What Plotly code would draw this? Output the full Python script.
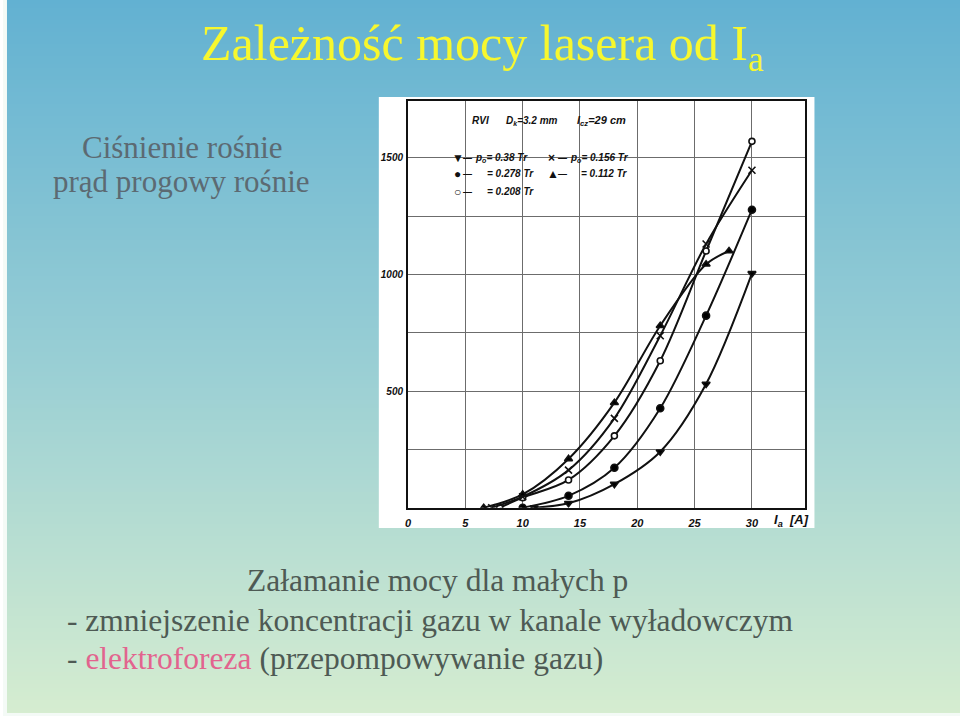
import plotly.graph_objects as go

# ---------------- data ----------------
# anode current Ia [A] and laser power for each pressure p0
x_038 = [11, 14, 18, 22, 26, 30]
y_038 = [0, 19, 101, 240, 530, 1004]

x_0278 = [10, 14, 18, 22, 26, 30]
y_0278 = [0, 51, 171, 426, 823, 1277]

x_0208 = [8, 10, 14, 18, 22, 26, 30]
y_0208 = [0, 43, 119, 308, 630, 1100, 1570]

x_0156 = [7.3, 10, 14, 18, 22, 26, 30]
y_0156 = [0, 47, 161, 383, 737, 1130, 1446]

x_0112 = [6.6, 10, 14, 18, 22, 26, 28]
y_0112 = [0, 57, 209, 450, 780, 1043, 1100]

x_ticks = [0, 5, 10, 15, 20, 25, 30]
x_ticklabels = ["0", "5", "10", "15", "20", "25", "30"]
y_ticks = [250, 500, 750, 1000, 1250, 1500]
y_ticklabels = ["", "500", "", "1000", "", "1500"]

W, H = 960, 716


def px(x):
    return x / W


def py(y):
    return 1 - y / H


fig = go.Figure()

series = [
    (x_038, y_038, "triangle-down", "black", "p0 = 0.38 Tr"),
    (x_0278, y_0278, "circle", "black", "p0 = 0.278 Tr"),
    (x_0208, y_0208, "circle", "white", "p0 = 0.208 Tr"),
    (x_0156, y_0156, "x-thin", "black", "p0 = 0.156 Tr"),
    (x_0112, y_0112, "triangle-up", "black", "p0 = 0.112 Tr"),
]
for xs, ys, sym, fill, name in series:
    fig.add_trace(go.Scatter(
        x=xs, y=ys, mode="lines+markers", name=name,
        line=dict(color="#111111", width=2, shape="spline", smoothing=0.9),
        marker=dict(symbol=sym, size=7 if sym != "circle" or fill == "black" else 6,
                    color=fill, line=dict(color="#111111", width=1.6)),
        showlegend=False,
    ))

# ---------------- slide background (vertical gradient) ----------------
shapes = []
stops = [(0.0, (98, 177, 210)), (0.5, (152, 206, 212)), (1.0, (214, 237, 208))]


def grad(t):
    for (t0, c0), (t1, c1) in zip(stops[:-1], stops[1:]):
        if t <= t1:
            f = (t - t0) / (t1 - t0)
            return tuple(round(a + (b - a) * f) for a, b in zip(c0, c1))
    return stops[-1][1]


step = 4
for y0 in range(0, H, step):
    c = grad((y0 + step / 2) / H)
    shapes.append(dict(type="rect", xref="paper", yref="paper", layer="below",
                       x0=0, x1=1, y0=py(y0 + step), y1=py(y0),
                       fillcolor="rgb(%d,%d,%d)" % c, line=dict(width=0)))
# thin light slide border
shapes.append(dict(type="rect", xref="paper", yref="paper", layer="below",
                   x0=0, x1=px(4), y0=0, y1=1, fillcolor="#f4faf6", line=dict(width=0)))
shapes.append(dict(type="rect", xref="paper", yref="paper", layer="below",
                   x0=0, x1=1, y0=0, y1=py(713), fillcolor="#f4faf6", line=dict(width=0)))
# white scanned-figure background
shapes.append(dict(type="rect", xref="paper", yref="paper", layer="below",
                   x0=px(377), x1=px(814), y0=py(528), y1=py(97),
                   fillcolor="white", line=dict(width=0)))
# white legend box covering the grid
shapes.append(dict(type="rect", xref="paper", yref="paper", layer="between",
                   x0=px(449), x1=px(633), y0=py(200), y1=py(112),
                   fillcolor="white", line=dict(width=0)))

ann = []
serif = "'Times New Roman', 'Liberation Serif', 'DejaVu Serif', serif"
ann.append(dict(text="Zależność mocy lasera od I<sub>a</sub>", x=px(481), y=py(47),
                xref="paper", yref="paper", showarrow=False, xanchor="center", yanchor="middle",
                font=dict(family=serif, size=50, color="#f7f72e")))
ann.append(dict(text="Ciśnienie rośnie", x=px(180), y=py(147), xref="paper", yref="paper",
                showarrow=False, xanchor="center", yanchor="middle",
                font=dict(family=serif, size=31, color="#5c6a72")))
ann.append(dict(text="prąd progowy rośnie", x=px(179), y=py(181), xref="paper", yref="paper",
                showarrow=False, xanchor="center", yanchor="middle",
                font=dict(family=serif, size=31, color="#5c6a72")))
bottom_col = "#4e5a54"
ann.append(dict(text="Załamanie mocy dla małych p", x=px(243), y=py(580), xref="paper", yref="paper",
                showarrow=False, xanchor="left", yanchor="middle",
                font=dict(family=serif, size=31.5, color=bottom_col)))
ann.append(dict(text="- zmniejszenie koncentracji gazu w kanale wyładowczym", x=px(62), y=py(620),
                xref="paper", yref="paper", showarrow=False, xanchor="left", yanchor="middle",
                font=dict(family=serif, size=31.5, color=bottom_col)))
ann.append(dict(text="- <span style='color:#e2648e'>elektroforeza</span> (przepompowywanie gazu)",
                x=px(62), y=py(658), xref="paper", yref="paper", showarrow=False,
                xanchor="left", yanchor="middle",
                font=dict(family=serif, size=31.5, color=bottom_col)))

# texts inside the scanned figure
sf = dict(family="Liberation Sans", size=10, color="#111111", style="italic", weight="bold")
def t(text, x, y, size=10, anchor="left", style="italic"):
    f = dict(sf)
    f["size"] = size
    f["style"] = style
    ann.append(dict(text=text, x=px(x), y=py(y), xref="paper", yref="paper", showarrow=False,
                    xanchor=anchor, yanchor="middle", font=f))

t("RVI", 468, 121, 10)
t("D<sub>k</sub>=3.2 mm", 503, 121, 10)
t("l<sub>cz</sub>=29 cm", 574, 121, 11)
# legend rows: symbol, dash, text
for sym, xs, y in [("▼", 456, 158), ("●", 456, 174), ("○", 456, 192),
                   ("×", 550, 158), ("▲", 552, 174)]:
    t(sym, xs, y, 12, "center", "normal")
for xd, y in [(466, 158), (466, 174), (466, 192), (561, 158), (561, 174)]:
    t("—", xd, y, 9, "center", "normal")
t("p<sub>o</sub>= 0.38 Tr", 471, 158)
t("p<sub>o</sub>= 0.156 Tr", 567, 158)
t("= 0.278 Tr", 484, 174)
t("= 0.112 Tr", 578, 174)
t("= 0.208 Tr", 484, 192)
t("I<sub>a</sub>  [A]", 771, 520, 13)

grid_col = "#6c6c6c"
fig.update_layout(
    width=W, height=H, margin=dict(l=0, r=0, t=0, b=0),
    paper_bgcolor="rgba(0,0,0,0)", plot_bgcolor="rgba(0,0,0,0)",
    shapes=shapes, annotations=ann,
    xaxis=dict(domain=[px(406.3), px(805)], range=[0, 34.67], tickvals=x_ticks,
               ticktext=x_ticklabels, showgrid=True, gridcolor=grid_col, gridwidth=1,
               showline=True, linecolor="#111111", linewidth=2, mirror=True,
               zeroline=False, ticks="", ticklabelstandoff=4,
               tickfont=dict(family="Liberation Sans", size=11, color="#111111",
                             style="italic", weight="bold")),
    yaxis=dict(domain=[py(507.7), py(100.5)], range=[0, 1745], tickvals=y_ticks,
               ticktext=y_ticklabels, showgrid=True, gridcolor=grid_col, gridwidth=1,
               showline=True, linecolor="#111111", linewidth=2, mirror=True,
               zeroline=False, ticks="", ticklabelstandoff=1,
               tickfont=dict(family="Liberation Sans", size=10, color="#111111",
                             style="italic", weight="bold")),
)

fig.write_html("out.html", config={"displayModeBar": False},
               post_script="document.body.style.margin='0px';"
                           "document.body.style.overflow='hidden';")
